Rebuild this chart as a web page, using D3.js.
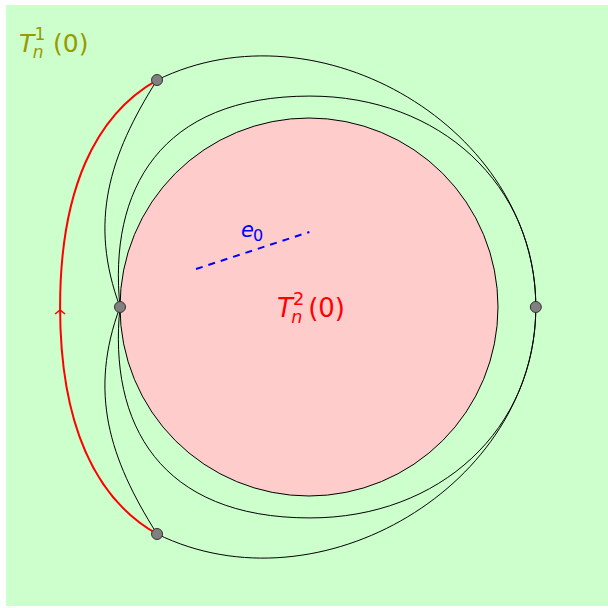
<!DOCTYPE html>
<html><head><meta charset="utf-8">
<script src="https://cdn.jsdelivr.net/npm/d3@7"></script>
<style>html,body{margin:0;padding:0;background:#fff}svg{display:block}</style>
</head><body>
<svg id="c" width="608" height="608"></svg>
<script>
// Coordinates: inner circle centred at (0,0) with radius 100.
// Curves are given as cubic Bezier segments: [start, control1, control2, end].
const circleR = 100;
const vertices = [[-80.4, 120.1], [-100, 0], [120, 0], [-80.4, -120.1]];
const middleRing = [
  [[-100,0],[-106.3,61.9],[-78.8,111.6],[0.5,111.6]],
  [[0.5,111.6],[69.3,111.6],[120.1,64.6],[120,0]],
  [[120,0],[120.1,-64.6],[69.3,-111.6],[0.5,-111.6]],
  [[0.5,-111.6],[-78.8,-111.6],[-106.3,-61.9],[-100,0]]
];
const outerCurve = [
  [[-80.4,120.1],[5.8,162.4],[120.1,93.7],[120,0]],
  [[120,0],[120.1,-93.7],[5.8,-162.4],[-80.4,-120.1]]
];
const loopUpper = [[[-80.4,120.1],[-105.8,79.9],[-116.7,45.0],[-100,0]]];
const loopLower = [[[-80.4,-120.1],[-105.8,-79.9],[-116.7,-45.0],[-100,0]]];
const redPath = [
  [[-80.4,120.1],[-113.2,101.6],[-131.7,61.9],[-131.7,0]],
  [[-131.7,0],[-131.7,-61.9],[-113.2,-101.6],[-80.4,-120.1]]
];
const arrowAt = [-131.7, -1.6];
const e0Segment = [[-59.8, 20.1], [0.2, 39.7]];

const svg = d3.select("#c");
const sx = d3.scaleLinear().domain([-100, 100]).range([120, 498]);
const sy = d3.scaleLinear().domain([-100, 100]).range([496, 118]);

function bez(segs) {
  const p = d3.path();
  p.moveTo(sx(segs[0][0][0]), sy(segs[0][0][1]));
  segs.forEach(s => p.bezierCurveTo(sx(s[1][0]), sy(s[1][1]), sx(s[2][0]), sy(s[2][1]), sx(s[3][0]), sy(s[3][1])));
  return p.toString();
}

svg.append("rect").attr("x", 6).attr("y", 5).attr("width", 602).attr("height", 601).attr("fill", "#ccffcc");

svg.append("circle").attr("cx", sx(0)).attr("cy", sy(0)).attr("r", sx(circleR) - sx(0))
  .attr("fill", "#ffcccc").attr("stroke", "#000").attr("stroke-width", 1);

[middleRing, outerCurve, loopUpper, loopLower].forEach(segs => {
  svg.append("path").attr("d", bez(segs)).attr("fill", "none").attr("stroke", "#000").attr("stroke-width", 1);
});

svg.append("path").attr("d", bez(redPath)).attr("fill", "none").attr("stroke", "#ff0000").attr("stroke-width", 2);
const ax = sx(arrowAt[0]), ay = sy(arrowAt[1]);
svg.append("path").attr("d", `M${ax-5},${ay+4}L${ax},${ay}L${ax+5},${ay+4}`)
  .attr("fill", "none").attr("stroke", "#ff0000").attr("stroke-width", 1.5);

svg.append("line")
  .attr("x1", sx(e0Segment[0][0])).attr("y1", sy(e0Segment[0][1]))
  .attr("x2", sx(e0Segment[1][0])).attr("y2", sy(e0Segment[1][1]))
  .attr("stroke", "#0000ff").attr("stroke-width", 2).attr("stroke-dasharray", "7,6");

svg.selectAll("circle.v").data(vertices).enter().append("circle").attr("class", "v")
  .attr("cx", d => sx(d[0])).attr("cy", d => sy(d[1])).attr("r", 5.5)
  .attr("fill", "#808080").attr("stroke", "#333").attr("stroke-width", 1);

const font = "DejaVu Sans";
function label(x, y, color, size, sup, sub, gap) {
  const t = svg.append("text").attr("x", x).attr("y", y).attr("fill", color)
    .attr("font-family", font).attr("font-size", size);
  t.append("tspan").attr("font-style", "italic").text("T");
  t.append("tspan").attr("x", x + size * 0.62).attr("y", y - size * 0.48).attr("font-size", size * 0.68).text(sup);
  t.append("tspan").attr("x", x + size * 0.55).attr("y", y + size * 0.22).attr("font-size", size * 0.68).attr("font-style", "italic").text(sub);
  t.append("tspan").attr("x", x + size * gap).attr("y", y).text("(0)");
}
label(19, 52, "#999900", 25, "1", "n", 1.36);
label(277, 317, "#ff0000", 26, "2", "n", 1.2);

const et = svg.append("text").attr("x", 241).attr("y", 237).attr("fill", "#0000ff").attr("font-family", font);
et.append("tspan").attr("font-size", 21).attr("font-style", "italic").text("e");
et.append("tspan").attr("x", 253).attr("y", 241).attr("font-size", 16).text("0");
</script>
</body></html>
